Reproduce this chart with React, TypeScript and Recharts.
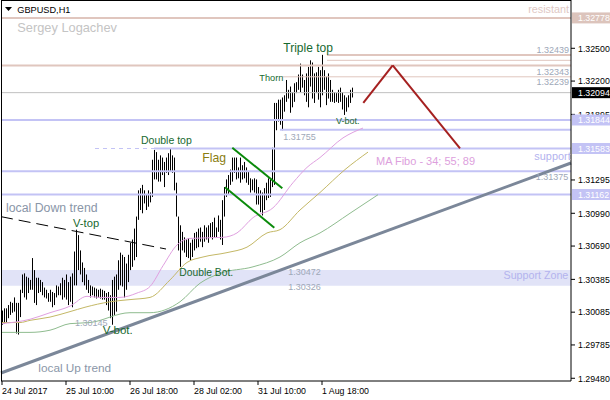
import { ComposedChart, Bar, Line, XAxis, YAxis, ReferenceLine, ReferenceArea, ReferenceDot } from 'recharts'

// H1 bars, index 0 = 24 Jul 2017 02:00
const HIGH = [
  1.3010, 1.3012, 1.3012, 1.3015, 1.3018, 1.3017, 1.3022, 1.3017, 1.3017, 1.3029,
  1.3043, 1.3044, 1.3041, 1.3040, 1.3038, 1.3058, 1.3047, 1.3040, 1.3040, 1.3038,
  1.3036, 1.3031, 1.3029, 1.3026, 1.3029, 1.3027, 1.3026, 1.3033, 1.3032, 1.3035,
  1.3040, 1.3038, 1.3043, 1.3036, 1.3041, 1.3044, 1.3064, 1.3084, 1.3079, 1.3065,
  1.3054, 1.3049, 1.3043, 1.3038, 1.3033, 1.3032, 1.3031, 1.3030, 1.3029, 1.3030,
  1.3029, 1.3028, 1.3026, 1.3027, 1.3024, 1.3038, 1.3041, 1.3043, 1.3056, 1.3063,
  1.3061, 1.3059, 1.3053, 1.3061, 1.3072, 1.3075, 1.3085, 1.3096, 1.3120, 1.3122,
  1.3125, 1.3120, 1.3116, 1.3120, 1.3118, 1.3148, 1.3157, 1.3155, 1.3148, 1.3152,
  1.3150, 1.3146, 1.3150, 1.3154, 1.3158, 1.3152, 1.3150, 1.3127, 1.3096, 1.3088,
  1.3082, 1.3077, 1.3075, 1.3076, 1.3072, 1.3075, 1.3081, 1.3082, 1.3085, 1.3086,
  1.3082, 1.3088, 1.3086, 1.3088, 1.3090, 1.3091, 1.3095, 1.3086, 1.3097, 1.3093,
  1.3111, 1.3123, 1.3130, 1.3134, 1.3139, 1.3150, 1.3150, 1.3150, 1.3141, 1.3150,
  1.3143, 1.3146, 1.3141, 1.3137, 1.3131, 1.3130, 1.3131, 1.3130, 1.3123, 1.3120,
  1.3118, 1.3122, 1.3127, 1.3131, 1.3130, 1.3159, 1.3200, 1.3200, 1.3203, 1.3203,
  1.3205, 1.3207, 1.3221, 1.3212, 1.3215, 1.3210, 1.3218, 1.3219, 1.3226, 1.3236,
  1.3226, 1.3221, 1.3227, 1.3233, 1.3239, 1.3237, 1.3227, 1.3228, 1.3233, 1.3230,
  1.3244, 1.3230, 1.3224, 1.3227, 1.3221, 1.3212, 1.3210, 1.3209, 1.3212, 1.3214,
  1.3210, 1.3207, 1.3205, 1.3207, 1.3212, 1.3214,
]
const LOW = [
  1.2997, 1.2998, 1.2999, 1.3003, 1.3006, 1.3008, 1.3009, 1.2989, 1.2988, 1.3004,
  1.3026, 1.3022, 1.3020, 1.3026, 1.3029, 1.3029, 1.3017, 1.3015, 1.3026, 1.3027,
  1.3024, 1.3022, 1.3021, 1.3018, 1.3018, 1.3013, 1.3015, 1.3022, 1.3024, 1.3024,
  1.3020, 1.3022, 1.3020, 1.3015, 1.3018, 1.3013, 1.3033, 1.3033, 1.3047, 1.3043,
  1.3036, 1.3033, 1.3029, 1.3026, 1.3022, 1.3024, 1.3022, 1.3021, 1.3022, 1.3021,
  1.3020, 1.3020, 1.3015, 1.3010, 1.3003, 1.2997, 1.3006, 1.3009, 1.3029, 1.3033,
  1.3032, 1.3022, 1.3029, 1.3036, 1.3047, 1.3050, 1.3056, 1.3059, 1.3093, 1.3102,
  1.3099, 1.3108, 1.3102, 1.3105, 1.3109, 1.3114, 1.3130, 1.3130, 1.3128, 1.3128,
  1.3134, 1.3123, 1.3136, 1.3134, 1.3137, 1.3136, 1.3120, 1.3096, 1.3065, 1.3050,
  1.3065, 1.3063, 1.3059, 1.3058, 1.3056, 1.3059, 1.3065, 1.3067, 1.3068, 1.3073,
  1.3068, 1.3073, 1.3075, 1.3072, 1.3077, 1.3075, 1.3077, 1.3077, 1.3082, 1.3075,
  1.3070, 1.3096, 1.3114, 1.3116, 1.3125, 1.3128, 1.3136, 1.3130, 1.3131, 1.3127,
  1.3130, 1.3131, 1.3127, 1.3125, 1.3118, 1.3120, 1.3118, 1.3107, 1.3107, 1.3100,
  1.3097, 1.3102, 1.3111, 1.3113, 1.3114, 1.3123, 1.3125, 1.3175, 1.3183, 1.3180,
  1.3175, 1.3192, 1.3201, 1.3204, 1.3191, 1.3196, 1.3201, 1.3209, 1.3212, 1.3210,
  1.3214, 1.3207, 1.3201, 1.3196, 1.3215, 1.3204, 1.3200, 1.3209, 1.3203, 1.3196,
  1.3207, 1.3212, 1.3198, 1.3204, 1.3201, 1.3201, 1.3200, 1.3201, 1.3200, 1.3201,
  1.3194, 1.3189, 1.3192, 1.3196, 1.3200, 1.3205,
]

// moving averages: [bar index, price]
const MA34 = [
  [0, 1.2998], [14, 1.3002], [24, 1.3008], [34, 1.3014], [42.5, 1.3023], [49, 1.3022],
  [59, 1.3022], [67.5, 1.3026], [74, 1.3032], [80.5, 1.3051], [87.5, 1.3070], [94, 1.3076],
  [110.5, 1.3077], [117.5, 1.3081], [125.5, 1.3095], [135.5, 1.3104], [145.5, 1.3127],
  [152.5, 1.3141], [159, 1.3150], [170.5, 1.3168], [180.5, 1.3177],
]
const MA55 = [
  [0, 1.2999], [9, 1.2999], [14, 1.3001], [24, 1.3004], [34, 1.3009], [41.5, 1.3013],
  [54, 1.3018], [64, 1.3020], [74, 1.3022], [84, 1.3038], [92.5, 1.3054], [100.5, 1.3059],
  [112.5, 1.3063], [122.5, 1.3068], [132.5, 1.3081], [139, 1.3084], [149, 1.3102],
  [159, 1.3118], [171.5, 1.3139], [183, 1.3155],
]
const MA89 = [
  [0, 1.2990], [14, 1.2990], [24, 1.2992], [34, 1.2998], [44, 1.2999], [64, 1.3008],
  [74, 1.3008], [89, 1.3018], [99, 1.3035], [109, 1.3044], [125.5, 1.3050], [139, 1.3059],
  [149, 1.3072], [159, 1.3081], [174, 1.3099], [188, 1.3116],
]

const TIME_TICKS = [0, 32, 64, 96, 128, 160]
const TIME_LABELS = ['24 Jul 2017', '25 Jul 10:00', '26 Jul 18:00', '28 Jul 02:00', '31 Jul 10:00', '1 Aug 18:00']

const PRICE_TICKS = [1.325, 1.322, 1.31895, 1.31295, 1.3099, 1.3069, 1.30385, 1.30085, 1.29785, 1.2948]
const TAG_PRICES = [1.32778, 1.32094, 1.31844, 1.31583, 1.31162]
const TAG_COLORS = ['#dcc4bc', '#000000', '#c3c3f5', '#c3c3f5', '#c3c3f5']

const UP_TREND = [[-0.5, 1.29528], [284.5, 1.3145]]
const DOWN_TREND = [[-0.5, 1.30959], [82, 1.30663]]
const FLAG_TOP = [[115.15, 1.3159], [140.15, 1.31219]]
const FLAG_BOTTOM = [[111.5, 1.31228], [136.15, 1.30858]]
const FORECAST = [[180.65, 1.32], [195.35, 1.32343], [229, 1.31583]]

const ZONE = [1.30326, 1.30472]

const bars = HIGH.map((h, i) => ({ i, range: [LOW[i], h] }))
const toRows = (pts: number[][]) => pts.map(([i, v]) => ({ i, v }))

const FONT = "'Liberation Sans', Arial, sans-serif"
const PINK = '#e0c6be'
const LAV = '#c3c3f5'
const GREEN_TXT = '#17692f'
const GRAY_TXT = '#9ea8b8'

// text notes: [text, index, price(baseline), size, colour, anchor]
const NOTES: [string, number, number, number, string, string][] = [
  ['Sergey Logachev', 7.65, 1.32649, 12.8, '#c4c4c4', 'start'],
  ['local Down trend', 2, 1.31006, 12.3, '#8a96a8', 'start'],
  ['local Up trend', 18.15, 1.29537, 11.8, '#8a96a8', 'start'],
  ['V-top', 35.5, 1.3086, 11.2, GREEN_TXT, 'start'],
  ['1.30145', 36.5, 1.29954, 9, GRAY_TXT, 'start'],
  ['V-bot.', 50.35, 1.29881, 11.5, GREEN_TXT, 'start'],
  ['Double top', 69.5, 1.31624, 10.5, GREEN_TXT, 'start'],
  ['Flag', 100.15, 1.31459, 12.2, '#8a7d10', 'start'],
  ['Double Bot.', 88.65, 1.30416, 10.3, GREEN_TXT, 'start'],
  ['Thorn', 128.65, 1.32205, 9.2, GREEN_TXT, 'start'],
  ['Triple top', 140.65, 1.32466, 12, GREEN_TXT, 'start'],
  ['V-bot.', 167, 1.31807, 9, GREEN_TXT, 'start'],
  ['1.31755', 140.65, 1.31665, 9, GRAY_TXT, 'start'],
  ['MA Fibo - 34; 55; 89', 187, 1.31436, 11, '#dda0dd', 'start'],
  ['1.30472', 143.15, 1.30425, 9, GRAY_TXT, 'start'],
  ['1.30326', 143.15, 1.30288, 9, GRAY_TXT, 'start'],
  ['resistant', 283.5, 1.32825, 10.8, '#e0c8c4', 'end'],
  ['1.32439', 283.5, 1.32454, 9, GRAY_TXT, 'end'],
  ['1.32343', 283.5, 1.32256, 9, GRAY_TXT, 'end'],
  ['1.32239', 283.5, 1.32164, 9, GRAY_TXT, 'end'],
  ['support', 284.35, 1.31482, 10.9, '#b3b3ee', 'end'],
  ['1.31375', 283.15, 1.31295, 9, GRAY_TXT, 'end'],
  ['Support Zone', 283.15, 1.30391, 10.7, '#b3b3ee', 'end'],
]

function BarShape(p: any) {
  if (p.x == null || p.y == null) return null
  return <rect x={Math.round(p.x)} y={p.y} width={1} height={Math.max(p.height, 1)} fill="#000" />
}

function TimeTick(p: any) {
  const k = TIME_TICKS.indexOf(p.payload.value)
  return (
    <g>
      <line x1={p.x} x2={p.x} y1={381} y2={385} stroke="#000" />
      <text x={p.x} y={394} fontSize={8.8} fontFamily={FONT} fill="#000" textAnchor="start">{TIME_LABELS[k]}</text>
    </g>
  )
}

function PriceTick(p: any) {
  const v = p.payload.value
  const k = TAG_PRICES.indexOf(v)
  const label = v.toFixed(5)
  if (k >= 0) {
    return (
      <g>
        <rect x={p.x - 6} y={p.y - 5.5} width={40} height={11} fill={TAG_COLORS[k]} />
        <text x={p.x} y={p.y + 3.3} fontSize={8.8} fontFamily={FONT} fill="#fff">{label}</text>
      </g>
    )
  }
  return (
    <g>
      <line x1={p.x - 7} x2={p.x - 3} y1={p.y} y2={p.y} stroke="#000" />
      <text x={p.x} y={p.y + 3.3} fontSize={8.8} fontFamily={FONT} fill="#000">{label}</text>
    </g>
  )
}

const seg = (pts: number[][]) => pts.map(([x, y]) => ({ x, y }))

export default function App() {
  return (
    <div style={{ position: 'absolute', left: 0, top: 0, width: 610, height: 400, background: '#fff' }}>
      <ComposedChart width={610} height={400} data={bars} margin={{ top: 0, right: 0, bottom: 0, left: 1 }}>
        <XAxis dataKey="i" type="number" domain={[-0.5, 284.5]} allowDataOverflow ticks={TIME_TICKS} interval={0}
          tick={TimeTick} tickLine={false} axisLine={{ stroke: '#000' }} height={19} />
        <YAxis orientation="right" type="number" domain={[1.29455, 1.32942]} allowDataOverflow
          ticks={[...PRICE_TICKS, ...TAG_PRICES]} interval={0} tick={PriceTick} tickLine={false}
          tickSize={4} tickMargin={3} axisLine={{ stroke: '#000' }} width={39} />

        <ReferenceArea y1={ZONE[0]} y2={ZONE[1]} fill="#e1e3f7" fillOpacity={1} stroke="none" />

        <ReferenceLine y={1.32778} stroke={PINK} strokeWidth={2} />
        <ReferenceLine segment={seg([[162.5, 1.32439], [284.5, 1.32439]])} stroke={PINK} strokeWidth={2} />
        <ReferenceLine segment={seg([[162.5, 1.3239], [284.5, 1.3239]])} stroke={PINK} strokeWidth={1} />
        <ReferenceLine y={1.32343} stroke={PINK} strokeWidth={2} />
        <ReferenceLine segment={seg([[140, 1.32239], [284.5, 1.32239]])} stroke={PINK} strokeWidth={1} />
        <ReferenceLine y={1.32094} stroke="#c0c0c0" strokeWidth={1} />
        <ReferenceLine y={1.31844} stroke={LAV} strokeWidth={2} />
        <ReferenceLine segment={seg([[139, 1.31755], [284.5, 1.31755]])} stroke={LAV} strokeWidth={2} />
        <ReferenceLine segment={seg([[46.5, 1.31583], [76, 1.31583]])} stroke={LAV} strokeWidth={1} strokeDasharray="4 4" />
        <ReferenceLine segment={seg([[76, 1.31583], [284.5, 1.31583]])} stroke={LAV} strokeWidth={2} />
        <ReferenceLine y={1.31375} stroke={LAV} strokeWidth={2} />
        <ReferenceLine y={1.31162} stroke={LAV} strokeWidth={2} />

        <Line data={toRows(MA89)} dataKey="v" type="monotone" stroke="#8fbc8f" strokeWidth={1} dot={false} isAnimationActive={false} />
        <Line data={toRows(MA55)} dataKey="v" type="monotone" stroke="#c4b866" strokeWidth={1} dot={false} isAnimationActive={false} />
        <Line data={toRows(MA34)} dataKey="v" type="monotone" stroke="#e0a0e0" strokeWidth={1} dot={false} isAnimationActive={false} />

        <Bar dataKey="range" barSize={1} shape={BarShape} isAnimationActive={false} />

        <ReferenceLine segment={seg(UP_TREND)} stroke="#7b8799" strokeWidth={3} />
        <ReferenceLine segment={seg(DOWN_TREND)} stroke="#000" strokeWidth={1} strokeDasharray="12 6" />
        <ReferenceLine segment={seg(FLAG_TOP)} stroke="#0a8a0a" strokeWidth={2} />
        <ReferenceLine segment={seg(FLAG_BOTTOM)} stroke="#0a8a0a" strokeWidth={2} />
        <ReferenceLine segment={seg(FORECAST.slice(0, 2))} stroke="#a52020" strokeWidth={2} />
        <ReferenceLine segment={seg(FORECAST.slice(1, 3))} stroke="#a52020" strokeWidth={2} />

        {NOTES.map(([text, i, p, size, color, anchor], k) => (
          <ReferenceDot key={'n' + k} x={i} y={p} r={0} fill="none" stroke="none" ifOverflow="visible"
            label={(lp: any) => (
              <text x={lp.viewBox.x} y={lp.viewBox.y} fontSize={size} fontFamily={FONT} fill={color} textAnchor={anchor}>{text}</text>
            )} />
        ))}
      </ComposedChart>
      <div style={{ position: 'absolute', left: 1, top: 0, width: 570, height: 381, borderLeft: '1px solid #000', borderTop: '1px solid #000', boxSizing: 'border-box', pointerEvents: 'none' }} />
      <svg style={{ position: 'absolute', left: 0, top: 0 }} width={80} height={16}>
        <polygon points="5,7 12,7 8.5,11" fill="#000" />
        <text x={17.3} y={13} fontSize={9.2} fontFamily={FONT} fill="#000">GBPUSD,H1</text>
      </svg>
    </div>
  )
}
